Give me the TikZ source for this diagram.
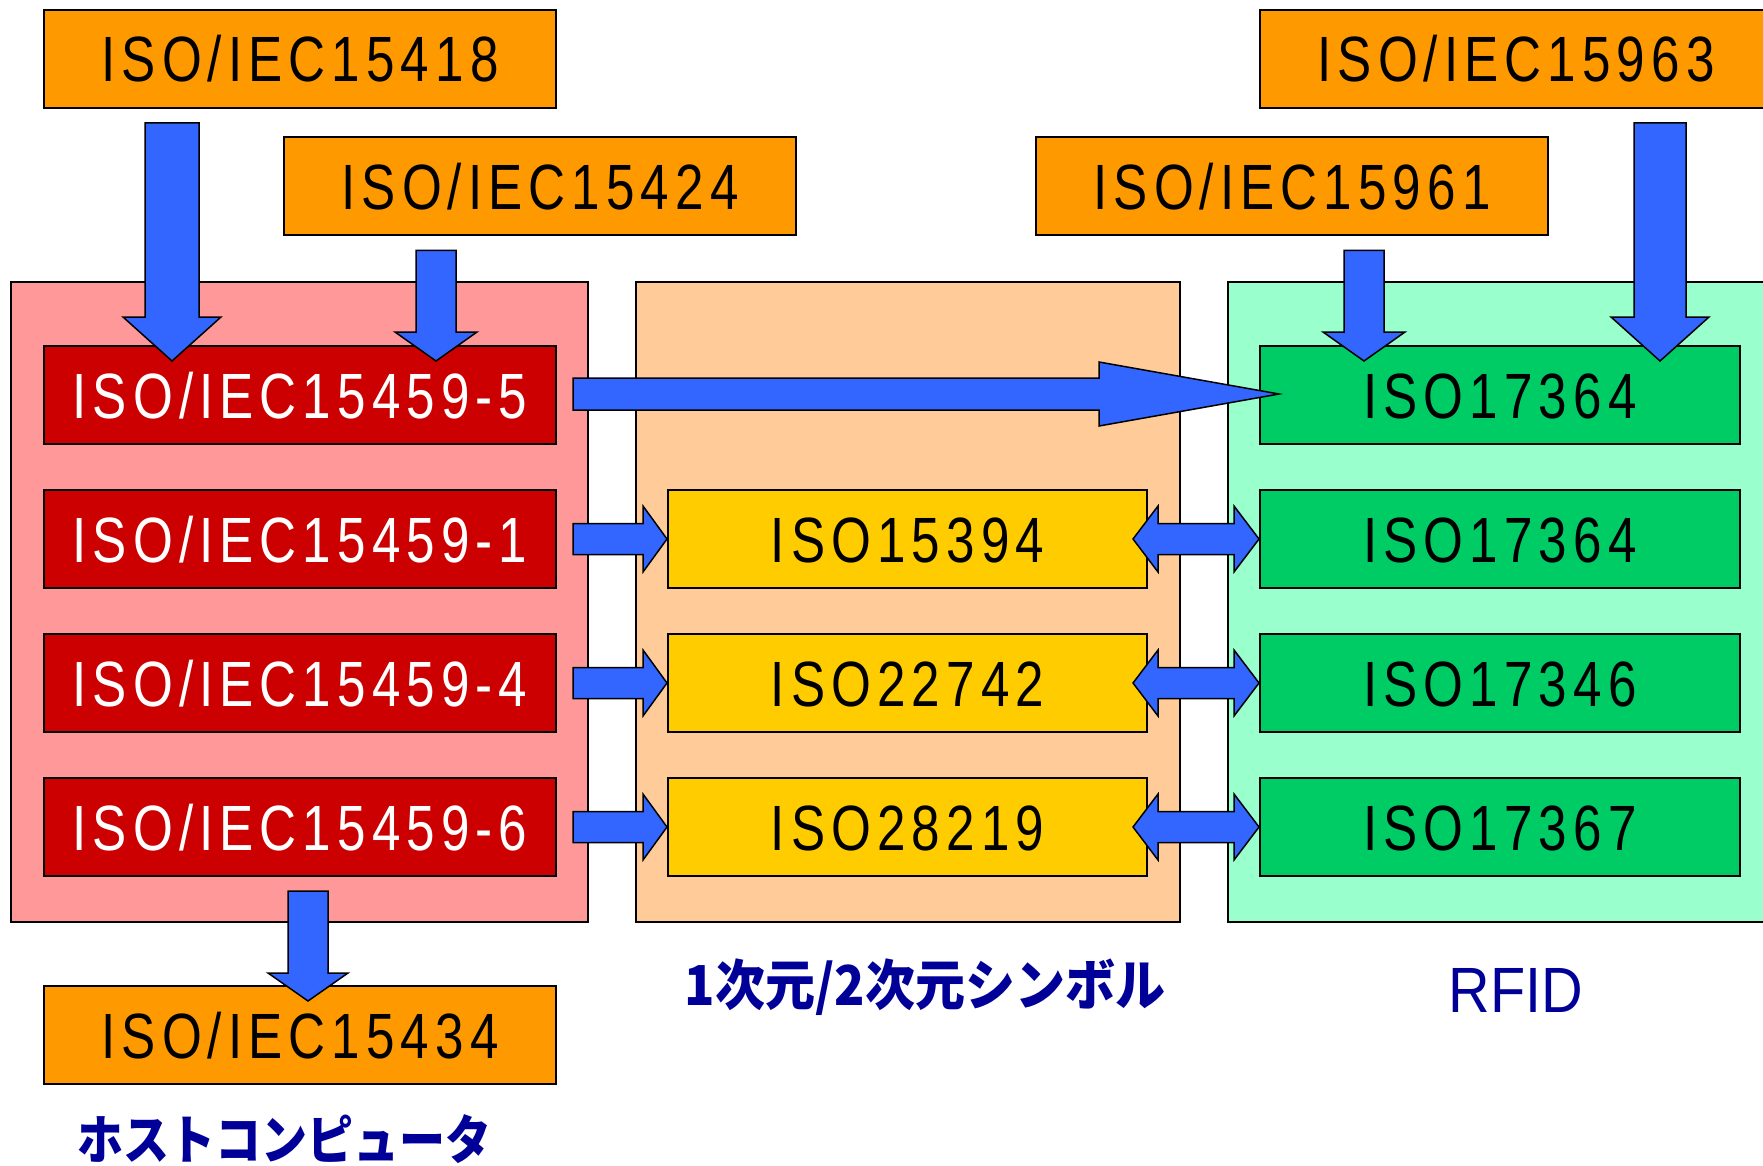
\documentclass[tikz,border=0pt]{standalone}
\usepackage{fontspec}
\usetikzlibrary{calc}
\newfontfamily\boxfont[FakeStretch=0.8,LetterSpace=9.5]{Liberation Sans}
\newfontfamily\rfidfont[FakeStretch=0.9]{Liberation Sans}
\newfontfamily\jpfont{Noto Sans CJK JP}
\definecolor{cOrange}{HTML}{FF9900}
\definecolor{cRed}{HTML}{CC0000}
\definecolor{cPink}{HTML}{FF9999}
\definecolor{cPeach}{HTML}{FFCC99}
\definecolor{cYellow}{HTML}{FFCC00}
\definecolor{cMint}{HTML}{99FFCC}
\definecolor{cGreen}{HTML}{00CC66}
\definecolor{cBlue}{HTML}{3366FF}
\definecolor{cNavy}{HTML}{000099}
\newcommand\varrowblk[5]{%
  \draw[blk] let \p1=(#1), \p2=(#2) in
    (\x1-#3pt,\y1) -- (\x1+#3pt,\y1) -- (\x1+#3pt,\y2+#5pt) -- (\x1+#4pt,\y2+#5pt)
    -- (\x1,\y2) -- (\x1-#4pt,\y2+#5pt) -- (\x1-#3pt,\y2+#5pt) -- cycle;}
\newcommand\harrowblk[5]{%
  \draw[blk] let \p1=(#1), \p2=(#2) in
    (\x1,\y1-#3pt) -- (\x2-#5pt,\y1-#3pt) -- (\x2-#5pt,\y1-#4pt) -- (\x2,\y1)
    -- (\x2-#5pt,\y1+#4pt) -- (\x2-#5pt,\y1+#3pt) -- (\x1,\y1+#3pt) -- cycle;}
\newcommand\darrowblk[5]{%
  \draw[blk] let \p1=(#1), \p2=(#2) in
    (\x1,\y1) -- (\x1+#5pt,\y1+#4pt) -- (\x1+#5pt,\y1+#3pt) -- (\x2-#5pt,\y1+#3pt)
    -- (\x2-#5pt,\y1+#4pt) -- (\x2,\y1) -- (\x2-#5pt,\y1-#4pt) -- (\x2-#5pt,\y1-#3pt)
    -- (\x1+#5pt,\y1-#3pt) -- (\x1+#5pt,\y1-#4pt) -- cycle;}
\begin{document}
\begin{tikzpicture}[x=1pt,y=-1pt,
  box/.style={draw=black, line width=2pt, minimum width=512pt, minimum height=98pt,
    inner sep=0pt, font=\boxfont\fontsize{64}{64}\selectfont, text height=46pt, text depth=0pt},
  obox/.style={box, fill=cOrange},
  rbox/.style={box, fill=cRed, text=white},
  ybox/.style={box, fill=cYellow, minimum width=479pt},
  gbox/.style={box, fill=cGreen, minimum width=480pt},
  grp/.style={draw=black, line width=2pt},
  blk/.style={draw=black, fill=cBlue, line width=1.5pt, line join=miter},
  lbl/.style={text=cNavy, inner sep=0pt, anchor=base}]
\useasboundingbox (0,0) rectangle (1763,1166);
\clip (0,0) rectangle (1763,1166);
% groups
\draw[grp, fill=cPink] (11,282) rectangle (588,922);
\draw[grp, fill=cPeach] (636,282) rectangle (1180,922);
\draw[grp, fill=cMint] (1228,282) rectangle (1790,922);
% top boxes
\node[obox] (o15418) at (300,59) {ISO/IEC15418};
\node[obox] (o15424) at (540,186.5) {ISO/IEC15424};
\node[obox] (o15961) at (1292,186.5) {ISO/IEC15961};
\node[obox] (o15963) at (1516,59) {ISO/IEC15963};
% red column
\node[rbox] (r5) at (300,395) {ISO/IEC15459-5};
\node[rbox] (r1) at (300,539) {ISO/IEC15459-1};
\node[rbox] (r4) at (300,683) {ISO/IEC15459-4};
\node[rbox] (r6) at (300,827) {ISO/IEC15459-6};
% yellow column
\node[ybox] (y1) at (907.5,539) {ISO15394};
\node[ybox] (y2) at (907.5,683) {ISO22742};
\node[ybox] (y3) at (907.5,827) {ISO28219};
% green column
\node[gbox] (g1) at (1500,395) {ISO17364};
\node[gbox] (g2) at (1500,539) {ISO17364};
\node[gbox] (g3) at (1500,683) {ISO17346};
\node[gbox] (g4) at (1500,827) {ISO17367};
% bottom box
\node[obox] (o15434) at (300,1035) {ISO/IEC15434};
% arrow end points
\coordinate (a1s) at ([xshift=-128pt,yshift=-14pt]o15418.south);
\coordinate (a1t) at (a1s |- r5.north);
\coordinate (a2s) at ([xshift=-104pt,yshift=-14pt]o15424.south);
\coordinate (a2t) at (a2s |- r5.north);
\coordinate (a3s) at ([xshift=72pt,yshift=-14pt]o15961.south);
\coordinate (a3t) at (a3s |- g1.north);
\coordinate (a4s) at ([xshift=144pt,yshift=-14pt]o15963.south);
\coordinate (a4t) at (a4s |- g1.north);
\coordinate (a6s) at ([xshift=8pt,yshift=-14pt]r6.south);
\coordinate (a6t) at (a6s |- o15434.north);
% vertical arrows
\varrowblk{a1s}{[yshift=-16pt]a1t}{27}{49}{44}
\varrowblk{a2s}{[yshift=-16pt]a2t}{20}{41}{29}
\varrowblk{a3s}{[yshift=-16pt]a3t}{20}{41}{29}
\varrowblk{a4s}{[yshift=-16pt]a4t}{26}{49}{44}
\varrowblk{a6s}{[yshift=-16pt]a6t}{20}{40}{28}
% long arrow
\harrowblk{[xshift=16pt,yshift=1pt]r5.east}{[xshift=20pt]g1.west}{16}{32}{180}
% short arrows
\harrowblk{[xshift=16pt]r1.east}{y1.west}{15.5}{33}{24}
\harrowblk{[xshift=16pt]r4.east}{y2.west}{15.5}{33}{24}
\harrowblk{[xshift=16pt]r6.east}{y3.west}{15.5}{33}{24}
% double arrows
\darrowblk{[xshift=-15pt]y1.east}{g2.west}{15.5}{33}{25}
\darrowblk{[xshift=-15pt]y2.east}{g3.west}{15.5}{33}{25}
\darrowblk{[xshift=-15pt]y3.east}{g4.west}{15.5}{33}{25}
% labels
\node[lbl, font=\jpfont\bfseries\fontsize{46}{46}\selectfont] (lblhost) at (284,1159) {\scalebox{1}[1.15]{ホストコンピュータ}};
\node[lbl, font=\jpfont\bfseries\fontsize{50}{50}\selectfont] (lblsym) at (925,1005) {\scalebox{1}[1.1]{1次元/2次元シンボル}};
\node[lbl, font=\rfidfont\fontsize{64}{64}\selectfont] (lblrfid) at (1516,1012) {RFID};
\end{tikzpicture}
\end{document}
